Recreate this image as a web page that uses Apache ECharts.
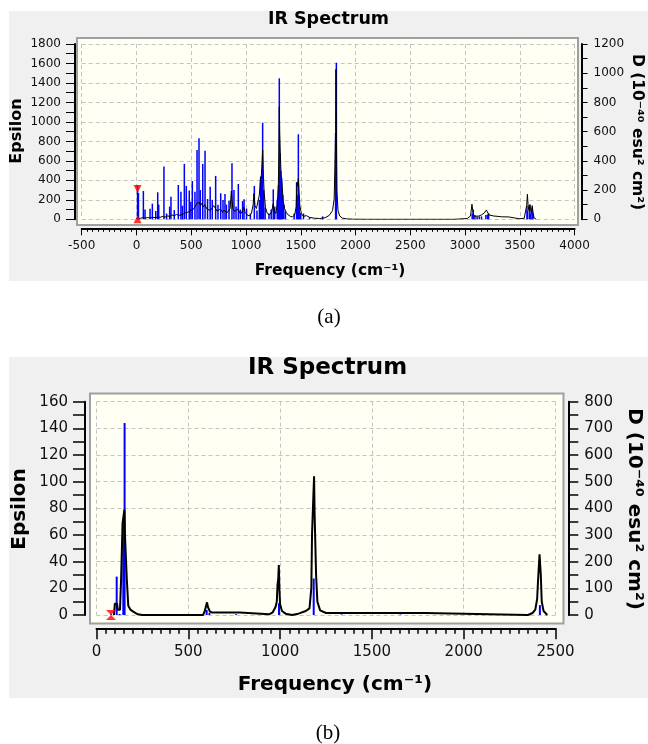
<!DOCTYPE html>
<html><head><meta charset="utf-8">
<script src="https://cdn.jsdelivr.net/npm/echarts@6/dist/echarts.min.js"></script>
<style>html,body{margin:0;padding:0;background:#fff}#c{width:648px;height:744px}</style>
</head><body><div id="c"></div>
<script>
// ---------------- DATA ----------------
// Panel (a): x range / ticks
const freqTicksA = { min: -500, max: 4000, step: 500 };
const epsTicksA = { min: 0, max: 1800, step: 200 };
const dTicksA = { min: 0, max: 1200, step: 200 };
// Panel (b)
const freqTicksB = { min: 0, max: 2500, step: 500 };
const epsTicksB = { min: 0, max: 160, step: 20 };
const dTicksB = { min: 0, max: 800, step: 100 };

// (a) broadened spectrum: [frequency, epsilon]
const spectrumA = [[0,8],[15,14],[35,10],[55,16],[75,12],[100,18],[125,14],[150,20],[175,16],[195,25],[215,20],[240,30],[260,22],[285,35],[305,28],[325,45],[345,35],[365,50],[385,40],[400,55],[420,48],[440,65],[455,50],[475,75],[495,90],[510,70],[525,110],[540,140],[552,165],[562,150],[572,175],[585,140],[597,165],[610,125],[622,150],[632,130],[645,105],[660,125],[675,90],[690,115],[705,140],[722,110],[735,85],[750,75],[768,105],[785,70],[800,95],[810,80],[825,65],[840,75],[855,110],[866,290],[872,200],[880,110],[895,80],[910,60],[925,105],[935,90],[950,55],[965,80],[980,125],[992,70],[1010,45],[1030,35],[1050,60],[1065,150],[1073,265],[1082,140],[1095,110],[1110,125],[1122,250],[1132,420],[1140,445],[1147,600],[1152,712],[1157,520],[1165,280],[1178,120],[1195,60],[1215,45],[1235,80],[1248,160],[1258,85],[1272,60],[1285,150],[1295,320],[1300,690],[1304,1157],[1308,880],[1313,690],[1320,460],[1330,340],[1340,190],[1352,110],[1368,70],[1385,45],[1405,30],[1425,25],[1445,45],[1458,130],[1465,380],[1472,340],[1478,421],[1484,300],[1492,140],[1505,60],[1525,30],[1550,38],[1580,20],[1620,12],[1670,8],[1720,15],[1760,40],[1790,90],[1805,210],[1813,620],[1818,900],[1821,1540],[1825,920],[1830,300],[1840,90],[1855,35],[1880,12],[1920,4],[1980,1],[2100,0],[2500,0],[2900,0],[3020,8],[3050,35],[3063,155],[3070,90],[3076,55],[3084,32],[3100,30],[3125,33],[3150,45],[3175,65],[3195,95],[3208,75],[3218,45],[3235,34],[3260,34],[3300,30],[3330,26],[3400,24],[3460,12],[3500,6],[3540,10],[3555,30],[3563,145],[3569,257],[3575,150],[3583,90],[3592,150],[3598,100],[3606,60],[3613,140],[3620,75],[3630,15],[3650,0]];

// (a) computed modes: [frequency, D (10^-40 esu^2 cm^2)]
const modesA = [[10,235],[18,180],[63,194],[78,67],[124,73],[145,107],[176,57],[194,185],[203,100],[251,361],[275,40],[303,87],[315,155],[345,63],[382,235],[406,189],[420,93],[437,379],[455,228],[482,197],[497,120],[510,262],[534,189],[553,475],[571,555],[583,200],[605,379],[626,470],[649,139],[673,223],[692,133],[723,297],[744,100],[769,178],[790,132],[808,173],[821,100],[845,127],[872,383],[890,200],[909,87],[930,242],[948,67],[969,125],[982,137],[1005,73],[1040,40],[1076,228],[1100,60],[1122,133],[1134,292],[1143,300],[1152,661],[1162,200],[1175,80],[1210,40],[1230,67],[1249,205],[1262,87],[1285,133],[1296,233],[1304,965],[1310,454],[1318,333],[1326,280],[1335,167],[1345,100],[1360,53],[1440,40],[1462,253],[1470,167],[1478,582],[1486,133],[1500,43],[1525,40],[1580,13],[1700,20],[1818,589],[1825,1072],[3065,40],[3075,67],[3090,27],[3110,20],[3130,20],[3150,20],[3190,30],[3205,33],[3215,40],[3565,93],[3572,60],[3590,100],[3600,40],[3612,80],[3620,40]];

// (a) selected-mode marker: [frequency, D]
const selectedA = [10, 235];

// (b) broadened spectrum: [frequency, epsilon]
const spectrumB = [[95,0],[100,8.5],[112,8.5],[116,4],[128,4],[134,27],[140,27],[142,69],[149,69],[152,79],[155,60],[163,60],[165,27],[170,27],[173,7],[185,4],[200,2.5],[225,0.5],[250,0],[580,0],[590,3],[597,7],[602,9.5],[607,6],[612,5],[618,2.5],[630,1.8],[780,1.8],[786,0.3],[940,0.5],[960,2],[975,6],[982,10],[986,23],[990,27],[993,37.5],[996,20],[1000,8],[1010,3],[1030,1],[1065,0],[1100,1],[1140,3],[1160,5],[1170,20],[1174,61],[1181,61],[1185,104],[1188,76],[1192,76],[1196,30],[1203,10],[1218,3.5],[1250,1.5],[1790,1.5],[1795,0],[2350,0],[2375,1.5],[2390,4],[2400,12],[2405,26],[2410,26],[2413,45.5],[2418,44],[2420,30],[2425,10],[2435,3],[2455,0]];

// (b) computed modes: [frequency, D]
const modesB = [[79,3],[110,144],[126,4],[146,345],[153,720],[600,19],[615,8],[760,3],[994,44],[1183,137],[1335,2],[1655,2],[2415,37]];
const selectedB = [79, 0];

// ---------------- STYLE ----------------
const FONT = '"DejaVu Sans", sans-serif';
const GRID_LINE = { show: true, lineStyle: { color: '#C4C4C4', type: [4, 3], width: 1 } };

function valAxis(o) {
  return {
    type: 'value', gridIndex: o.grid, min: o.t.min, max: o.t.max, interval: o.t.step,
    position: o.pos, offset: o.offset,
    axisLine: { show: true, onZero: false, lineStyle: { color: '#000', width: 2 } },
    axisTick: { show: true, inside: false, length: o.tick, lineStyle: { color: '#000', width: o.tw || 1 } },
    minorTick: { show: true, splitNumber: o.minor, length: o.mtick, lineStyle: { color: '#000', width: o.tw || 1 } },
    axisLabel: { fontSize: o.fs, margin: o.margin, color: '#111', fontFamily: FONT,
      formatter: function (v) { return String(v); } },
    splitLine: o.split ? GRID_LINE : { show: false }
  };
}

function stickRender(width) {
  return function (params, api) {
    const f = api.value(0), v = api.value(1);
    const p0 = api.coord([f, 0]);
    const p1 = api.coord([f, v]);
    return { type: 'line', shape: { x1: p0[0], y1: p0[1], x2: p1[0], y2: p1[1] },
      style: { stroke: '#0000FF', lineWidth: width } };
  };
}

function txt(x, y, text, size, opts) {
  opts = opts || {};
  return { type: 'text', x: x, y: y, rotation: opts.rot || 0, z: 20, silent: true,
    style: { text: text, fill: '#000', fontSize: size, fontWeight: opts.weight || 'bold',
      fontFamily: opts.family || FONT, align: 'center', verticalAlign: 'middle' } };
}

const chart = echarts.init(document.getElementById('c'), null, { renderer: 'canvas' });
chart.setOption({
  animation: false,
  backgroundColor: '#ffffff',
  grid: [
    { left: 81.7, top: 44, width: 492.9, height: 175.3 },
    { left: 96.5, top: 401.7, width: 459, height: 213.3 }
  ],
  xAxis: [
    valAxis({ grid: 0, t: freqTicksA, pos: 'bottom', offset: 9, tick: 7, minor: 10, mtick: 3.5, fs: 12, margin: 12, split: true }),
    valAxis({ grid: 1, t: freqTicksB, pos: 'bottom', offset: 13.3, tick: 11, minor: 10, mtick: 5.5, fs: 15, margin: 16, split: true, tw: 1.5 })
  ],
  yAxis: [
    valAxis({ grid: 0, t: epsTicksA, pos: 'left', offset: 6.7, tick: 9, minor: 2, mtick: 9, fs: 12, margin: 14, split: true }),
    valAxis({ grid: 0, t: dTicksA, pos: 'right', offset: 7, tick: 6, minor: 2, mtick: 6, fs: 12, margin: 12, split: false }),
    valAxis({ grid: 1, t: epsTicksB, pos: 'left', offset: 11.5, tick: 12, minor: 2, mtick: 12, fs: 15, margin: 17, split: true, tw: 1.5 }),
    valAxis({ grid: 1, t: dTicksB, pos: 'right', offset: 12.8, tick: 10, minor: 2, mtick: 10, fs: 15, margin: 16, split: false, tw: 1.5 })
  ],
  series: [
    { name: 'modes (a)', type: 'custom', xAxisIndex: 0, yAxisIndex: 1, data: modesA,
      encode: { x: 0, y: 1 }, renderItem: stickRender(1.5), z: 3, silent: true },
    { name: 'spectrum (a)', type: 'line', xAxisIndex: 0, yAxisIndex: 0, data: spectrumA,
      showSymbol: false, lineStyle: { color: '#000', width: 1 }, z: 4, silent: true },
    { name: 'selected (a)', type: 'scatter', xAxisIndex: 0, yAxisIndex: 1, z: 5, silent: true,
      itemStyle: { color: '#FF0000' },
      data: [
        { value: selectedA, symbol: 'triangle', symbolSize: [8, 8], symbolRotate: 180, symbolOffset: [0, 4] },
        { value: [selectedA[0], 0], symbol: 'triangle', symbolSize: [8, 8], symbolOffset: [0, 0] }
      ] },
    { name: 'modes (b)', type: 'custom', xAxisIndex: 1, yAxisIndex: 3, data: modesB,
      encode: { x: 0, y: 1 }, renderItem: stickRender(2), z: 3, silent: true },
    { name: 'spectrum (b)', type: 'line', xAxisIndex: 1, yAxisIndex: 2, data: spectrumB,
      showSymbol: false, lineStyle: { color: '#000', width: 2 }, z: 4, silent: true },
    { name: 'selected (b)', type: 'scatter', xAxisIndex: 1, yAxisIndex: 3, z: 5, silent: true,
      itemStyle: { color: '#FF0000' },
      data: [
        { value: selectedB, symbol: 'triangle', symbolSize: [10, 5], symbolRotate: 180, symbolOffset: [0, -2.5] },
        { value: selectedB, symbol: 'triangle', symbolSize: [10, 5], symbolOffset: [0, 2.5] }
      ] }
  ],
  graphic: { elements: [
    { type: 'rect', z: -20, silent: true, shape: { x: 9, y: 11, width: 639, height: 270 }, style: { fill: '#F0F0F0' } },
    { type: 'rect', z: -20, silent: true, shape: { x: 9, y: 357, width: 639, height: 341 }, style: { fill: '#F0F0F0' } },
    { type: 'rect', z: -10, silent: true, shape: { x: 77, y: 38, width: 501, height: 187 }, style: { fill: '#FFFFF4', stroke: '#A0A0A0', lineWidth: 2 } },
    { type: 'rect', z: -10, silent: true, shape: { x: 90, y: 393.5, width: 473.5, height: 230 }, style: { fill: '#FFFFF4', stroke: '#A0A0A0', lineWidth: 2 } },
    txt(328.5, 19, 'IR Spectrum', 17.5),
    txt(17, 131, 'Epsilon', 16, { rot: Math.PI / 2 }),
    txt(637, 132, 'D (10⁻⁴⁰ esu² cm²)', 15.5, { rot: -Math.PI / 2 }),
    txt(330, 271, 'Frequency (cm⁻¹)', 15.5),
    txt(329, 317.5, '(a)', 21, { weight: 'normal', family: '"Liberation Serif", serif' }),
    txt(327.5, 368, 'IR Spectrum', 23),
    txt(19.5, 509, 'Epsilon', 20, { rot: Math.PI / 2 }),
    txt(634, 509, 'D (10⁻⁴⁰ esu² cm²)', 20, { rot: -Math.PI / 2 }),
    txt(335, 685, 'Frequency (cm⁻¹)', 20),
    txt(328, 733, '(b)', 21, { weight: 'normal', family: '"Liberation Serif", serif' })
  ] }
});
</script></body></html>
